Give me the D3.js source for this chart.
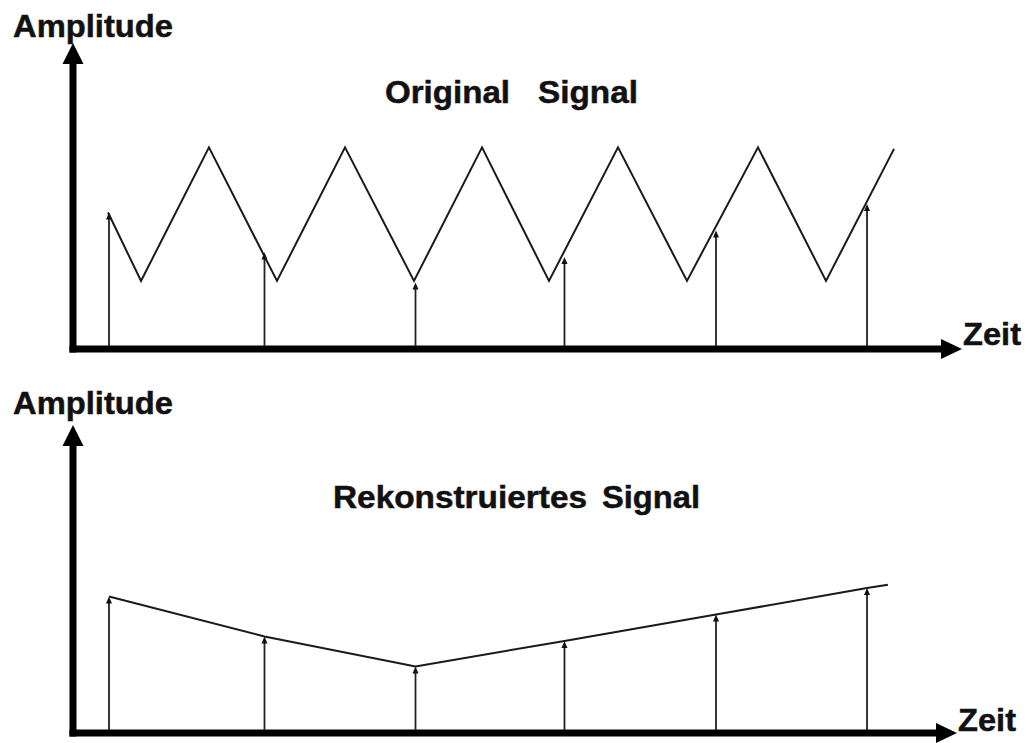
<!DOCTYPE html>
<html>
<head>
<meta charset="utf-8">
<script src="https://cdn.jsdelivr.net/npm/d3@7"></script>
<style>
  html, body { margin: 0; padding: 0; background: #fff; }
  svg { display: block; }
  text { font-family: "Liberation Sans", Arial, Helvetica, sans-serif; font-weight: bold; fill: #111; stroke: #111; stroke-width: 0.5; }
</style>
</head>
<body>
<svg id="chart" width="1028" height="743"></svg>
<script>
// ---- data (time in arbitrary units 0..100, amplitude in arbitrary units 0..100) ----
const yAxisLabel = "Amplitude";
const xAxisLabel = "Zeit";
const topTitle = ["Original", "Signal"];
const bottomTitle = ["Rekonstruiertes", "Signal"];

// vertices of the original (triangle) signal
const waveT = [3.98, 7.73, 15.45, 23.18, 30.91, 38.75, 46.48, 54.09, 61.93, 69.77, 77.84, 85.57, 93.30];
const waveA = [45.5, 22.7, 67.2, 22.7, 67.2, 22.7, 67.2, 22.7, 67.2, 22.7, 67.2, 22.7, 66.7];

// sampling instants and sampled amplitudes
const sampleT = [4.09, 21.76, 38.92, 55.85, 73.07, 90.23];
const sampleA = [45.5, 32.2, 22.2, 30.7, 39.5, 48.3];

// reconstructed line runs slightly past the last sample
const reconEndT = [92.6];
const reconEndA = [49.4];

// ---- layout ----
const svg = d3.select("#chart");
const x = d3.scaleLinear().domain([0, 100]).range([73, 953]);

const panels = [
  { axisY: 349, yTop: 49, arrowTipY: 43, xTip: 962, ampLabelY: 37, title: topTitle,
    titleX: [385, 538], titleW: [125, 100], titleY: 103, zeitX: 963, zeitY: 345 },
  { axisY: 733, yTop: 433, arrowTipY: 425, xTip: 957, ampLabelY: 414, title: bottomTitle,
    titleX: [333, 602], titleW: [254, 98], titleY: 508, zeitX: 958, zeitY: 731 }
];

panels.forEach((p, i) => {
  const y = d3.scaleLinear().domain([0, 100]).range([p.axisY, p.yTop]);
  const g = svg.append("g");
  const x0 = x(0);

  // y axis with arrow
  g.append("line").attr("x1", x0).attr("x2", x0)
    .attr("y1", p.axisY + 3.5).attr("y2", p.arrowTipY + 18)
    .attr("stroke", "#000").attr("stroke-width", 7);
  g.append("path")
    .attr("d", `M${x0},${p.arrowTipY} L${x0 - 10.5},${p.arrowTipY + 21} L${x0 + 10.5},${p.arrowTipY + 21} Z`)
    .attr("fill", "#000");

  // x axis with arrow
  g.append("line").attr("x1", x0 - 3.5).attr("x2", p.xTip - 18)
    .attr("y1", p.axisY).attr("y2", p.axisY)
    .attr("stroke", "#000").attr("stroke-width", 7);
  g.append("path")
    .attr("d", `M${p.xTip},${p.axisY} L${p.xTip - 21},${p.axisY - 10} L${p.xTip - 21},${p.axisY + 10} Z`)
    .attr("fill", "#000");

  // labels
  g.append("text").attr("x", 13).attr("y", p.ampLabelY)
    .attr("font-size", 32).attr("textLength", 160).attr("lengthAdjust", "spacingAndGlyphs")
    .text(yAxisLabel);
  g.append("text").attr("x", p.zeitX).attr("y", p.zeitY)
    .attr("font-size", 32).attr("textLength", 58).attr("lengthAdjust", "spacingAndGlyphs")
    .text(xAxisLabel);
  p.title.forEach((w, k) => {
    g.append("text").attr("x", p.titleX[k]).attr("y", p.titleY)
      .attr("font-size", 32).attr("textLength", p.titleW[k]).attr("lengthAdjust", "spacingAndGlyphs")
      .text(w);
  });

  // signal line
  let pts;
  if (i === 0) {
    pts = waveT.map((t, k) => [t, waveA[k]]);
  } else {
    pts = sampleT.map((t, k) => [t, sampleA[k]])
      .concat(reconEndT.map((t, k) => [t, reconEndA[k]]));
  }
  const line = d3.line().x(d => x(d[0])).y(d => y(d[1]));
  g.append("path").datum(pts).attr("d", line)
    .attr("fill", "none").attr("stroke", "#1a1a1a").attr("stroke-width", 2)
    .attr("stroke-linejoin", "miter");

  // sample stems with small arrow heads
  const samples = sampleT.map((t, k) => ({ t, a: sampleA[k] }));
  g.selectAll(".stem").data(samples).enter().append("line")
    .attr("x1", d => x(d.t)).attr("x2", d => x(d.t))
    .attr("y1", p.axisY - 3).attr("y2", d => y(d.a) + 5)
    .attr("stroke", "#222").attr("stroke-width", 1.8);
  g.selectAll(".head").data(samples).enter().append("path")
    .attr("d", d => {
      const cx = x(d.t), ty = y(d.a);
      return `M${cx},${ty} L${cx - 3},${ty + 7} L${cx + 3},${ty + 7} Z`;
    })
    .attr("fill", "#111");
});
</script>
</body>
</html>
